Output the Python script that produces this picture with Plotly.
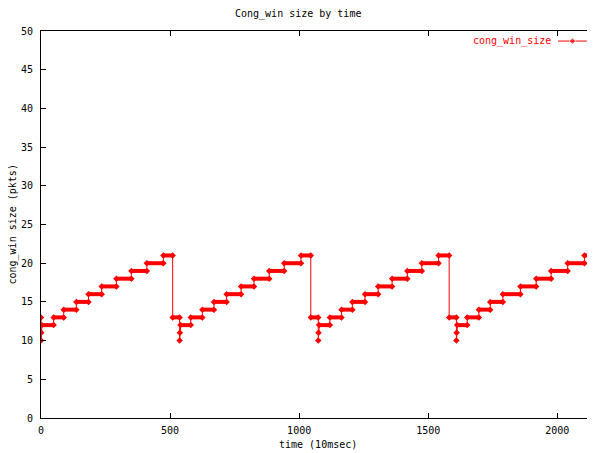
import plotly.graph_objects as go

# ---- data ----
cycle_min_times = [0, 537, 1074, 1609]          # time cwnd falls to 10
cycle_up_times = [                              # times cwnd steps up to 13,14,...,21
    [49, 88, 137, 184, 235, 292, 350, 410, 474],
    [580, 625, 670, 719, 775, 825, 884, 942, 1007],
    [1119, 1164, 1206, 1255, 1306, 1360, 1419, 1475, 1540],
    [1651, 1696, 1740, 1789, 1857, 1918, 1976, 2040, 2105],
]
cycle_drop_times = [510, 1045, 1581, 2142]      # time cwnd drops from 21 to 13
start_levels = [10, 11, 12]                      # after the minimum
up_levels = [13, 14, 15, 16, 17, 18, 19, 20, 21]
drop_level = 13
x_ticks = [0, 500, 1000, 1500, 2000]
y_ticks = [0, 5, 10, 15, 20, 25, 30, 35, 40, 45, 50]

RED = "#ff0000"
MONO = "DejaVu Sans Mono, monospace"

# build the step series
xs, ys = [], []
for i, s in enumerate(cycle_min_times):
    if i == 0:
        xs.append(s); ys.append(drop_level)
    for k, lv in enumerate(start_levels):
        xs.append(s + [0, 1, 3][k]); ys.append(lv)
    for t, lv in zip(cycle_up_times[i], up_levels):
        xs.append(t); ys.append(lv)
    xs.append(cycle_drop_times[i]); ys.append(drop_level)

fig = go.Figure()

# thin connecting step line
fig.add_trace(go.Scatter(x=xs, y=ys, mode="lines", line=dict(color=RED, width=1, shape="hv"),
                         showlegend=False, hoverinfo="skip"))

# thick plateaus (dense samples in the original)
px, py = [], []
for j in range(len(xs) - 1):
    if xs[j + 1] - xs[j] >= 5:
        px += [xs[j], xs[j + 1], None]
        py += [ys[j], ys[j], None]
fig.add_trace(go.Scatter(x=px, y=py, mode="lines+markers",
                         line=dict(color=RED, width=4),
                         marker=dict(symbol="diamond", size=5, color=RED),
                         showlegend=False, hoverinfo="skip"))

# single points (short-lived values)
sx, sy = [], []
for j in range(len(xs)):
    next_long = j < len(xs) - 1 and xs[j + 1] - xs[j] >= 5
    if not next_long:
        sx.append(xs[j]); sy.append(ys[j])
fig.add_trace(go.Scatter(x=sx, y=sy, mode="markers",
                         marker=dict(symbol="diamond", size=5, color=RED),
                         showlegend=False, hoverinfo="skip"))

# legend sample (gnuplot style: text, then line with point)
fig.add_trace(go.Scatter(x=[0.935, 0.961, 0.987], y=[0.974, 0.974, 0.974],
                         xaxis="x2", yaxis="y2", mode="lines+markers",
                         line=dict(color=RED, width=1),
                         marker=dict(symbol="diamond", size=[0, 5, 0], color=RED),
                         showlegend=False, hoverinfo="skip"))

axis_common = dict(showline=True, linecolor="black", linewidth=1, mirror="allticks",
                   ticks="inside", ticklen=5, tickcolor="black", showgrid=False,
                   zeroline=False, automargin=False,
                   tickfont=dict(family=MONO, size=10, color="black"))

# the page body adds an 8px offset; the figure is sized to fill the rest of the window
fig.update_layout(
    width=587, height=445,
    margin=dict(l=33, r=1, t=23, b=35, autoexpand=False),
    paper_bgcolor="white", plot_bgcolor="white",
    showlegend=False,
    xaxis=dict(range=[0, cycle_drop_times[-1]], tickvals=x_ticks, ticklabelstandoff=3,
               **axis_common),
    yaxis=dict(range=[0, 50], tickvals=y_ticks, ticklabelstandoff=5, **axis_common),
    xaxis2=dict(range=[0, 1], domain=[0, 1], overlaying="x", visible=False, anchor="y2"),
    yaxis2=dict(range=[0, 1], domain=[0, 1], overlaying="y", visible=False, anchor="x2"),
    annotations=[
        dict(text="Cong_win size by time", xref="paper", yref="paper", x=0.464, y=1.0,
             yshift=17, xanchor="center", yanchor="middle", showarrow=False,
             font=dict(family=MONO, size=10, color="black")),
        dict(text="time (10msec)", xref="paper", yref="paper", x=0.5, y=0,
             yshift=-26, xanchor="center", yanchor="middle", showarrow=False,
             font=dict(family=MONO, size=10, color="black")),
        dict(text="cong_win size (pkts)", xref="paper", yref="paper", x=0, y=0.5,
             xshift=-29, xanchor="center", yanchor="middle", textangle=-90, showarrow=False,
             font=dict(family=MONO, size=10, color="black")),
        dict(text="cong_win_size", xref="paper", yref="paper", x=0.926, y=0.974,
             xanchor="right", yanchor="middle", showarrow=False,
             font=dict(family=MONO, size=10, color=RED)),
    ],
)

fig.write_html("out.html")
